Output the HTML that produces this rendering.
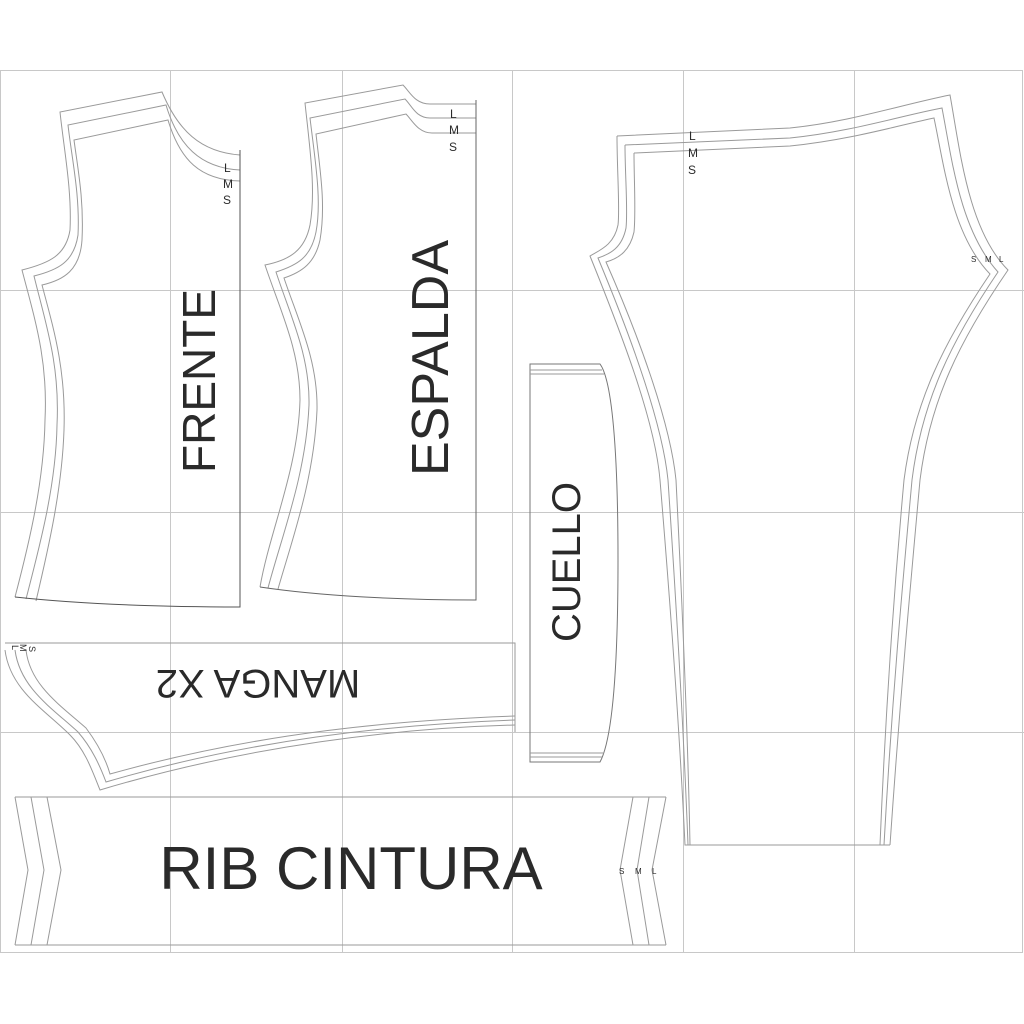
<!DOCTYPE html>
<html><head><meta charset="utf-8"><style>
html,body{margin:0;padding:0;background:#fff;}
svg{display:block;}
text{font-family:"Liberation Sans",sans-serif;fill:#2a2a2a;}
</style></head><body>
<svg width="1024" height="1024" viewBox="0 0 1024 1024" xmlns="http://www.w3.org/2000/svg">
<rect width="1024" height="1024" fill="#fff"/>
<g stroke="#c8c8c8" stroke-width="1" fill="none">
<rect x="0.5" y="70.5" width="1022" height="882"/>
<line x1="0" y1="290.5" x2="1024" y2="290.5"/>
<line x1="0" y1="512.5" x2="1024" y2="512.5"/>
<line x1="0" y1="732.5" x2="1024" y2="732.5"/>
<line x1="170.5" y1="70" x2="170.5" y2="952"/>
<line x1="342.5" y1="70" x2="342.5" y2="952"/>
<line x1="512.5" y1="70" x2="512.5" y2="952"/>
<line x1="683.5" y1="70" x2="683.5" y2="952"/>
<line x1="854.5" y1="70" x2="854.5" y2="952"/>
</g>
<g stroke="#9a9a9a" stroke-width="1" fill="none">
<path d="M240,155 C200,152 178,130 162,92 L60,112 C64,150 72,190 70,230 C66,255 50,263 22,270 C35,320 48,360 45,420 C44,480 30,540 15,597"/>
<path d="M240,170 C200,168 178,145 166,105 L68,125 C72,160 80,195 78,235 C74,262 58,270 34,276 C46,325 60,365 57,425 C56,485 40,545 26,599"/>
<path d="M240,181 C200,180 180,160 168,120 L74,140 C78,170 84,200 82,240 C80,270 64,280 42,285 C54,330 66,370 64,430 C62,490 48,550 36,601"/>
<path d="M15,597 C80,604 160,607 240,607 L240,150" stroke="#555"/>
<path d="M476,104 L430,104 C415,104 410,92 403,85 L305,103 C310,150 316,190 310,225 C305,250 290,260 265,265 C280,310 300,350 300,400 C298,470 270,530 260,587"/>
<path d="M476,118 L430,118 C416,118 412,106 405,99 L310,118 C315,160 322,200 316,232 C311,257 298,265 276,272 C290,315 310,355 309,405 C306,475 282,535 268,588"/>
<path d="M476,133 L432,133 C418,133 412,120 406,114 L316,134 C320,170 326,205 320,240 C315,263 302,272 284,278 C298,320 318,360 317,410 C314,480 292,540 278,589"/>
<path d="M260,587 C320,596 400,600 476,600 L476,100" stroke="#666"/>
<path d="M617,136 L790,128 C850,122 900,105 950,95 C960,150 968,230 1008,270 C960,340 930,400 920,480 C910,590 900,700 890,845"/>
<path d="M625,145 L790,138 C850,132 900,116 942,108 C952,160 960,230 998,272 C952,340 922,400 912,480 C902,590 892,700 884,845"/>
<path d="M634,153 L790,146 C850,140 900,125 934,118 C944,165 952,235 990,274 C944,342 914,402 904,480 C894,590 886,700 880,845"/>
<path d="M617,136 C617,170 620,210 618,225 C614,245 600,250 590,256 C620,330 655,420 660,480 C670,600 680,740 685,845 L890,845"/>
<path d="M625,145 C625,175 628,210 626,228 C622,248 610,254 598,258 C628,330 662,420 668,480 C676,600 684,740 688,845"/>
<path d="M634,153 C634,180 636,212 634,232 C630,250 620,258 606,262 C636,330 670,420 676,480 C682,600 688,740 690,845"/>
<path d="M530,364 L600,364 C612,380 618,450 618,560 C618,670 612,740 600,762 L530,762 Z" stroke="#777"/>
<line x1="530" y1="370" x2="602" y2="370"/>
<line x1="530" y1="374" x2="604" y2="374"/>
<line x1="530" y1="753" x2="604" y2="753"/>
<line x1="530" y1="757" x2="602" y2="757"/>
<path d="M5,643 L515,643 L515,732"/>
<path d="M5,650 C10,690 45,710 70,735 C85,750 92,770 100,790 C250,745 400,728 515,725"/>
<path d="M15,650 C20,688 52,708 78,732 C92,748 100,766 106,782 C255,738 400,724 515,720"/>
<path d="M26,650 C30,685 60,705 86,728 C98,744 106,760 110,774 C260,732 400,720 515,716"/>
<path d="M15,797 L666,797 M15,945 L666,945"/>
<path d="M15,797 L28,870 L15,945 M31,797 L44,870 L31,945 M47,797 L61,870 L47,945"/>
<path d="M666,797 L652,870 L666,945 M649,797 L637,870 L649,945 M633,797 L620,870 L633,945"/>
</g>
<g font-size="12">
<text x="224" y="172">L</text>
<text x="223" y="188">M</text>
<text x="223" y="204">S</text>
<text x="450" y="118">L</text>
<text x="449" y="134">M</text>
<text x="449" y="151">S</text>
<text x="689" y="140">L</text>
<text x="688" y="157">M</text>
<text x="688" y="174">S</text>
</g>
<g font-size="8" style="fill:#aaa">
<text x="971" y="262">S</text><text x="985" y="262">M</text><text x="999" y="262">L</text>
<text x="619" y="874">S</text><text x="635" y="874">M</text><text x="652" y="874">L</text>
</g>
<text font-size="9" transform="translate(12,645) rotate(90)" x="0" y="0">L</text>
<text font-size="9" transform="translate(20,644) rotate(90)" x="0" y="0">M</text>
<text font-size="9" transform="translate(29,646) rotate(90)" x="0" y="0">S</text>
<text font-size="46" transform="translate(215,381) rotate(-90)" text-anchor="middle">FRENTE</text>
<text font-size="52" transform="translate(448,358) rotate(-90)" text-anchor="middle">ESPALDA</text>
<text font-size="40" transform="translate(580,562) rotate(-90)" text-anchor="middle">CUELLO</text>
<text font-size="40" transform="translate(258,670) rotate(180)" text-anchor="middle">MANGA X2</text>
<text font-size="60" x="351" y="889" text-anchor="middle">RIB CINTURA</text>
</svg>
</body></html>
